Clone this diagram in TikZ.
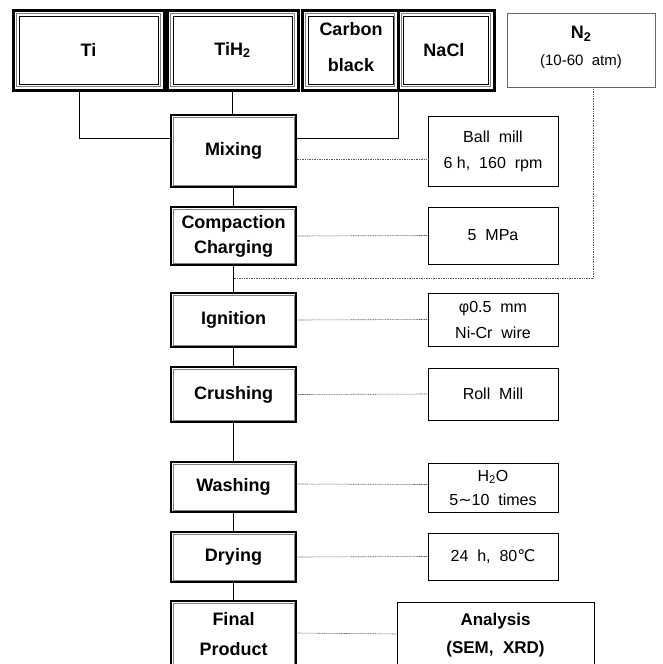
\documentclass[tikz,border=0pt]{standalone}
\usepackage{fontspec}
\setmainfont{Liberation Sans}
\newfontfamily\dejavu{DejaVu Sans}
\begin{document}
\begin{tikzpicture}[x=1pt,y=-1pt,
  topbox/.style={draw, line width=3pt, inner sep=0pt},
  toptext/.style={font=\fontsize{18}{36}\selectfont\bfseries, align=center, inner sep=0pt},
  proc/.style={draw, line width=1.3pt, inner sep=0pt,
    minimum width=125pt, align=center, font=\fontsize{18}{25}\selectfont\bfseries},
  param/.style={draw, line width=0.8pt, inner sep=0pt, minimum width=130pt, align=center,
    font=\fontsize{16}{26}\selectfont},
  innerline/.style={gray, line width=0.5pt},
  solidline/.style={line width=0.7pt},
  dotline/.style={line width=0.6pt, gray!70!black, dash pattern=on 1pt off 0.7pt}]
\useasboundingbox (0,0) rectangle (662,664);
% top row
\node[topbox, minimum width=151pt, minimum height=80pt] (Ti) at (88.5,50) {};
\node[toptext] (TiT) at (Ti.center) {Ti};
\node[topbox, minimum width=131pt, minimum height=80pt] (TiH) at (232.5,50) {};
\node[toptext] (TiHT) at (TiH.center) {TiH\textsubscript{2}};
\node[topbox, minimum width=192pt, minimum height=80pt] (CN) at (398,50) {};
\node[toptext] (CB) at (351,47) {Carbon\\black};
\node[toptext] (Na) at (444,50) {NaCl};
\draw[line width=3pt] (CN.north) -- (CN.south);
\foreach \b in {Ti,TiH}{
  \draw[gray, line width=0.6pt] ([shift={(5pt,-5pt)}]\b.north west) rectangle ([shift={(-5pt,5pt)}]\b.south east);
  \draw[line width=1pt] ([shift={(7.5pt,-7.5pt)}]\b.north west) rectangle ([shift={(-7.5pt,7.5pt)}]\b.south east);
}
\draw[gray, line width=0.6pt] ([shift={(5pt,-5pt)}]CN.north west) rectangle ([shift={(-3.5pt,5pt)}]CN.south);
\draw[line width=1pt] ([shift={(7.5pt,-7.5pt)}]CN.north west) rectangle ([shift={(-5pt,7.5pt)}]CN.south);
\draw[gray, line width=0.6pt] ([shift={(3.5pt,-5pt)}]CN.north) rectangle ([shift={(-5pt,5pt)}]CN.south east);
\draw[line width=1pt] ([shift={(5pt,-7.5pt)}]CN.north) rectangle ([shift={(-7.5pt,7.5pt)}]CN.south east);
\node[draw=gray!80!black, line width=0.6pt, minimum width=148pt, minimum height=74pt, inner sep=0pt] (N2) at (581,50) {};
\node[font=\fontsize{18}{20}\selectfont\bfseries, inner sep=0pt] (N2T) at (581,34) {N\textsubscript{2}};
\node[font=\fontsize{15}{18}\selectfont, inner sep=0pt] (N2P) at (581,62) {(10-60\ \ atm)};
% process column
\node[proc, minimum height=72pt] (Mix) at (233.5,151) {Mixing};
\node[proc, minimum height=58pt] (Comp) at (233.5,236) {Compaction\\Charging};
\node[proc, minimum height=54pt] (Ign) at (233.5,320) {Ignition};
\node[proc, minimum height=55pt] (Cru) at (233.5,394.5) {Crushing};
\node[proc, minimum height=50pt] (Was) at (233.5,487) {Washing};
\node[proc, minimum height=50pt] (Dry) at (233.5,557) {Drying};
\node[proc, minimum height=66pt, font=\fontsize{18}{30}\selectfont\bfseries] (Fin) at (233.5,634) {Final\\Product};
\foreach \b in {Mix,Comp,Ign,Cru,Was,Dry,Fin}{
  \draw[innerline] ([shift={(2.5pt,-2.5pt)}]\b.north west) rectangle ([shift={(-2.5pt,2.5pt)}]\b.south east);
}
% parameter column
\node[param, minimum height=70pt] (Ball) at (493,151) {Ball\ \ mill\\6\ h,\ \ 160\ \ rpm};
\node[param, minimum height=57pt] (MPa) at (493,235.5) {5\ \ MPa};
\node[param, minimum height=53pt] (Phi) at (493,319.5) {φ0.5\ \ mm\\Ni-Cr\ \ wire};
\node[param, minimum height=52pt] (Roll) at (493,394) {Roll\ \ Mill};
\node[param, minimum height=49pt, font=\fontsize{16}{24}\selectfont] (Water) at (493,487.5) {H\textsubscript{2}O\\5{\dejavu ∼}10\ \ times};
\node[param, minimum height=47pt] (Temp) at (493,556.5) {24\ \ h,\ \ 80{\dejavu ℃}};
\node[param, minimum width=197pt, minimum height=66pt, font=\fontsize{17}{28}\selectfont\bfseries] (Ana) at (495.5,635) {Analysis\\(SEM,\ \ XRD)};
% solid connectors
\draw[solidline] ([xshift=-9.5pt]Ti.south) |- ([yshift=13pt]Mix.west);
\draw[solidline] (TiH.south) -- (TiH.south |- Mix.north);
\draw[solidline] (CN.south) |- ([yshift=13pt]Mix.east);
\draw[solidline] (Mix) -- (Comp);
\draw[solidline] (Comp) -- (Ign);
\draw[solidline] (Ign) -- (Cru);
\draw[solidline] (Cru) -- (Was);
\draw[solidline] (Was) -- (Dry);
\draw[solidline] (Dry) -- (Fin);
% dotted connectors
\coordinate (n2end) at (234,278);
\draw[dotline] ([xshift=12pt]N2.south) |- (n2end);
\draw[dotline] ([yshift=-8pt]Mix.east) -- ([yshift=-8pt]Ball.west);
\draw[dotline] (Comp.east) -- (MPa.west);
\draw[dotline] (Ign.east) -- (Phi.west);
\draw[dotline] (Cru.east) -- (Roll.west);
\draw[dotline] ([yshift=3pt]Was.east) -- ([yshift=3pt]Water.west);
\draw[dotline] (Dry.east) -- (Temp.west);
\draw[dotline] ([yshift=1pt]Fin.east) -- ([yshift=1pt]Ana.west);
\end{tikzpicture}
\end{document}
